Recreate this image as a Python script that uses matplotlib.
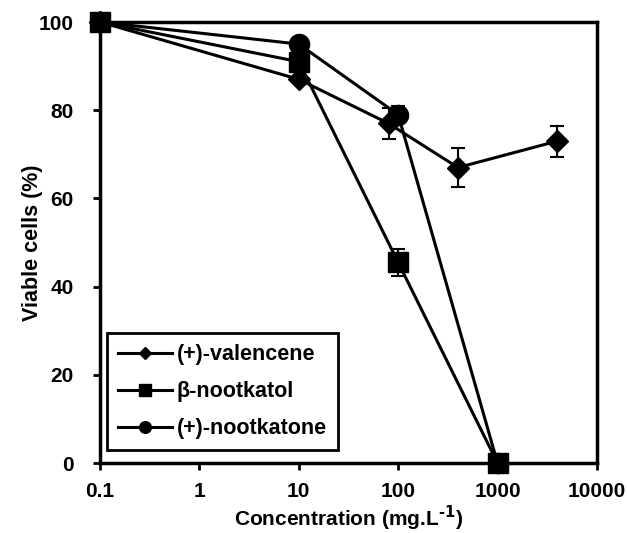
import matplotlib.pyplot as plt

plt.rcParams['font.family'] = ['Liberation Sans', 'DejaVu Sans']
plt.rcParams['font.weight'] = 'bold'
plt.rcParams['mathtext.default'] = 'bf'

# (+)-valencene
val_x = [0.1, 10, 80, 400, 4000]
val_y = [100, 87, 77, 67, 73]
val_err = [0, 0, 3.5, 4.5, 3.5]

# beta-nootkatol
nol_x = [0.1, 10, 100, 1000]
nol_y = [100, 91, 45.5, 0]
nol_err = [0, 1.5, 3, 0]

# (+)-nootkatone
none_x = [0.1, 10, 100, 1000]
none_y = [100, 95, 79, 0]
none_err = [0, 0, 2, 0]

xticks = [0.1, 1, 10, 100, 1000, 10000]
xticklabels = ['0.1', '1', '10', '100', '1000', '10000']
yticks = [0, 20, 40, 60, 80, 100]

fig = plt.figure(figsize=(6.27, 5.33), dpi=100)
ax = fig.add_axes([0.1595, 0.1313, 0.7925, 0.8274])

kw = dict(color='black', lw=2.2, capsize=5, elinewidth=1.5, capthick=1.5, clip_on=False)
h_val = ax.errorbar(val_x, val_y, yerr=val_err, marker='D', ms=11, **kw)
h_none = ax.errorbar(none_x, none_y, yerr=none_err, marker='o', ms=14.5, **kw)
h_nol = ax.errorbar(nol_x, nol_y, yerr=nol_err, marker='s', ms=14.5, **kw)

ax.set_xscale('log')
ax.set_xlim(0.1, 10000)
ax.set_ylim(0, 100)
ax.set_xticks(xticks)
ax.set_xticklabels(xticklabels)
ax.minorticks_off()
ax.set_yticks(yticks)
ax.tick_params(labelsize=15, width=2, length=5, direction='out')
ax.tick_params(axis='y', pad=14)
ax.tick_params(axis='x', pad=9)
for s in ax.spines.values():
    s.set_linewidth(2.5)

ax.set_xlabel('Concentration (mg.L$^{\\text{-1}}$)', fontsize=15, fontweight='bold', labelpad=2)
ax.set_ylabel('Viable cells (%)', fontsize=15.5, fontweight='bold', labelpad=-3)

leg = ax.legend([h_val[0], h_nol[0], h_none[0]],
                ['(+)-valencene', 'β-nootkatol', '(+)-nootkatone'],
                loc='lower left', bbox_to_anchor=(0.014, 0.029), borderaxespad=0,
                fontsize=15.5, markerscale=0.58, handlelength=2.5, handletextpad=0.25,
                labelspacing=0.75, fancybox=False, edgecolor='black',
                borderpad=0.5, framealpha=1)
leg.get_frame().set_linewidth(2)

fig.savefig('out.png', dpi=100)
